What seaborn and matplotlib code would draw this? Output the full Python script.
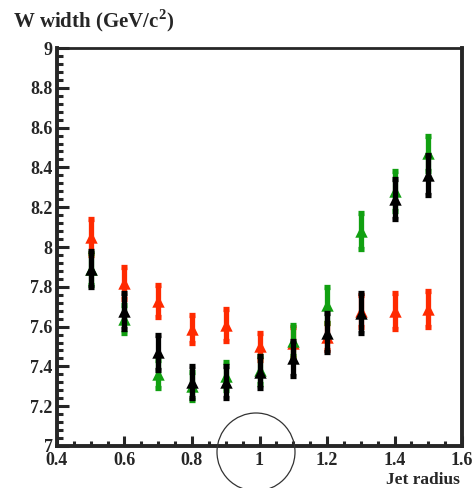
import numpy as np
import pandas as pd
import matplotlib
matplotlib.use("Agg")
import matplotlib.pyplot as plt
from matplotlib.patches import Ellipse
from matplotlib.ticker import MultipleLocator, FormatStrFormatter
import seaborn as sns

# ---- data ----
jet_radius = [0.5, 0.6, 0.7, 0.8, 0.9, 1.0, 1.1, 1.2, 1.3, 1.4, 1.5]
red_width = [8.05, 7.82, 7.73, 7.59, 7.61, 7.50, 7.52, 7.55, 7.68, 7.68, 7.69]
red_err = [0.09, 0.08, 0.08, 0.07, 0.08, 0.07, 0.08, 0.07, 0.08, 0.09, 0.09]
green_width = [7.89, 7.64, 7.36, 7.30, 7.35, 7.38, 7.53, 7.71, 8.08, 8.28, 8.47]
green_err = [0.08, 0.07, 0.07, 0.07, 0.07, 0.07, 0.08, 0.09, 0.09, 0.10, 0.09]
black_width = [7.89, 7.68, 7.47, 7.32, 7.32, 7.37, 7.44, 7.57, 7.67, 8.24, 8.36]
black_err = [0.09, 0.09, 0.09, 0.08, 0.08, 0.08, 0.09, 0.10, 0.10, 0.10, 0.10]
series_names = ["red", "green", "black"]
series_colors = {"red": "#ff2a00", "green": "#11a011", "black": "#000000"}

df = pd.concat([
    pd.DataFrame({"radius": jet_radius, "width": red_width, "err": red_err, "series": "red"}),
    pd.DataFrame({"radius": jet_radius, "width": green_width, "err": green_err, "series": "green"}),
    pd.DataFrame({"radius": jet_radius, "width": black_width, "err": black_err, "series": "black"}),
], ignore_index=True)

sns.set_style("ticks")
plt.rcParams["font.family"] = ["Liberation Serif", "DejaVu Serif"]
plt.rcParams["font.weight"] = "bold"
plt.rcParams["mathtext.fontset"] = "custom"
plt.rcParams["mathtext.rm"] = "Liberation Serif:bold"
plt.rcParams["mathtext.bf"] = "Liberation Serif:bold"

fig = plt.figure(figsize=(4.74, 4.88), dpi=100)
ax = fig.add_axes([0.120, 0.0861, 0.855, 0.8155])

for i, name in enumerate(series_names):
    sub = df[df["series"] == name]
    c = series_colors[name]
    ax.errorbar(sub["radius"], sub["width"], yerr=sub["err"], fmt="none",
                ecolor=c, elinewidth=3.8, capsize=2.2, capthick=3.8,
                zorder=3 + 2 * i)
    sns.scatterplot(data=sub, x="radius", y="width", color=c, marker="^",
                    s=80, linewidth=0, ax=ax, zorder=4 + 2 * i, legend=False)

ax.set_xlim(0.4, 1.6)
ax.set_ylim(7.0, 9.0)
ax.xaxis.set_major_locator(MultipleLocator(0.2))
ax.xaxis.set_minor_locator(MultipleLocator(0.05))
ax.yaxis.set_major_locator(MultipleLocator(0.2))
ax.yaxis.set_minor_locator(MultipleLocator(0.04))
ax.xaxis.set_major_formatter(FormatStrFormatter("%g"))
ax.yaxis.set_major_formatter(FormatStrFormatter("%g"))
ax.set_xlabel("")
ax.set_ylabel("")

ax.tick_params(axis="x", which="major", direction="in", length=7, width=2.2,
               labelsize=13, pad=4, top=False)
ax.tick_params(axis="x", which="minor", direction="in", length=3.5, width=2.2, top=False)
ax.tick_params(axis="y", which="major", direction="in", length=8.5, width=2.2,
               labelsize=13, pad=3, right=False)
ax.tick_params(axis="y", which="minor", direction="in", length=4.3, width=2.2, right=False)
for lab in ax.get_xticklabels() + ax.get_yticklabels():
    lab.set_fontweight("bold")

for side in ["left", "bottom", "right"]:
    ax.spines[side].set_linewidth(2.8)
    ax.spines[side].set_visible(True)
ax.spines["top"].set_linewidth(2.0)
ax.spines["top"].set_visible(True)

fig.text(13 / 474, 1 - 27 / 488, r"W width (GeV/c$^{\mathbf{2}}$)", fontsize=15,
         fontweight="bold", ha="left", va="baseline")
fig.text(460 / 474, 1 - 484 / 488, "Jet radius", fontsize=12.5,
         fontweight="bold", ha="right", va="baseline")

circ = Ellipse((256 / 474, 1 - 452 / 488), width=78 / 474, height=78 / 488,
               transform=fig.transFigure, fill=False, edgecolor="#333333",
               linewidth=0.9, zorder=20)
fig.add_artist(circ)

fig.savefig("out.png", dpi=100)
